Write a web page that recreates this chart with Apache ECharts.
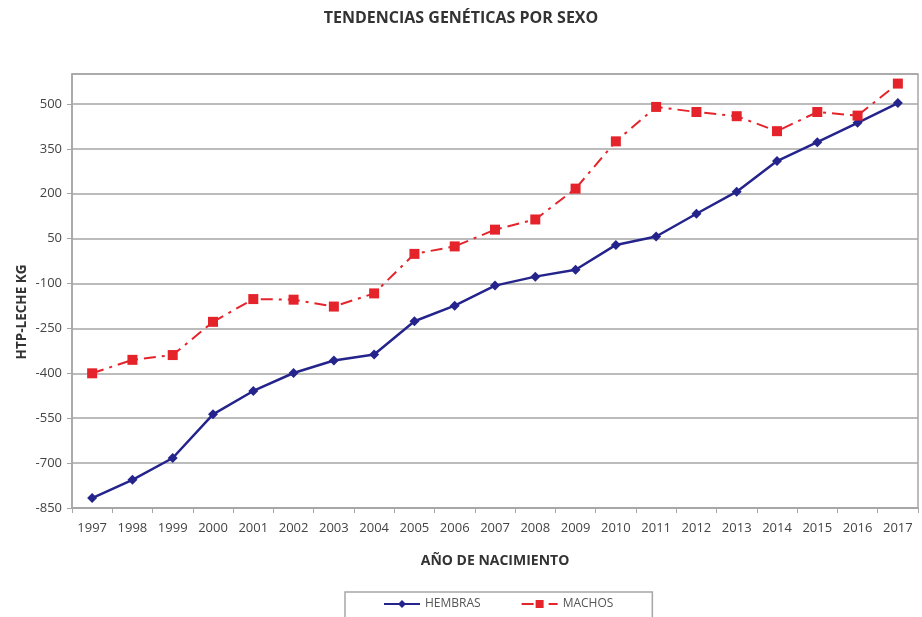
<!DOCTYPE html>
<html>
<head>
<meta charset="utf-8">
<script src="https://cdn.jsdelivr.net/npm/echarts@6/dist/echarts.min.js"></script>
<style>
html,body{margin:0;padding:0;background:#fff;}
#chart{width:922px;height:617px;}
</style>
</head>
<body>
<div id="chart"></div>
<script>
const years = ['1997','1998','1999','2000','2001','2002','2003','2004','2005','2006','2007','2008','2009','2010','2011','2012','2013','2014','2015','2016','2017'];
const hembras = [-817,-756,-683,-537,-459,-399,-357,-337,-226,-174,-107,-77,-54,29,57,133,207,309,372,437,503];
const machos = [-400,-355,-339,-228,-152,-154,-177,-133,-1,24,80,114,217,375,490,473,459,409,473,461,568];
const yMin = -850, yMax = 600, yStep = 150;

const chart = echarts.init(document.getElementById('chart'), null, {renderer:'canvas'});
const font = '"Open Sans", "Noto Sans", sans-serif';
chart.setOption({
  backgroundColor:'#fff',
  animation:false,
  title:{
    text:'TENDENCIAS GENÉTICAS POR SEXO',
    left:'center', top:5,
    textStyle:{fontFamily:font, fontSize:16, fontWeight:'bold', color:'#333'}
  },
  grid:{left:72, top:74, right:4, bottom:109, show:true, borderColor:'#a6a6a6', borderWidth:1.5},
  legend:{
    left:345, top:592,
    padding:[6,39,20,38],
    itemGap:40, itemWidth:36, itemHeight:10,
    borderColor:'#a6a6a6', borderWidth:1.5,
    textStyle:{fontFamily:font, fontSize:12, color:'#555'},
    data:['HEMBRAS','MACHOS']
  },
  xAxis:{
    type:'category', data:years, boundaryGap:true,
    name:'AÑO DE NACIMIENTO', nameLocation:'middle', nameGap:46,
    nameTextStyle:{fontFamily:font, fontSize:14, fontWeight:'bold', color:'#333'},
    axisLine:{onZero:false, lineStyle:{color:'#a6a6a6', width:1.5}},
    axisTick:{show:true, length:5, lineStyle:{color:'#a6a6a6'}, alignWithLabel:false},
    axisLabel:{fontFamily:font, fontSize:13, color:'#444', margin:14, interval:0}
  },
  yAxis:{
    type:'value', min:yMin, max:yMax, interval:yStep,
    axisLine:{show:true, lineStyle:{color:'#a6a6a6', width:1.5}},
    axisTick:{show:true, length:5, lineStyle:{color:'#a6a6a6'}},
    axisLabel:{fontFamily:font, fontSize:13, color:'#444', margin:10, showMaxLabel:false},
    splitLine:{lineStyle:{color:'#a6a6a6', width:1.5}}
  },
  graphic:[{
    type:'text', x:22, y:312, rotation:Math.PI/2,
    style:{text:'HTP-LECHE KG', x:0, y:0, align:'center', verticalAlign:'middle',
      font:'bold 13.5px "Open Sans", sans-serif', fill:'#333'}
  }],
  series:[
    {
      name:'HEMBRAS', type:'line', data:hembras,
      symbol:'diamond', symbolSize:10,
      lineStyle:{color:'#24248c', width:2.5},
      itemStyle:{color:'#24248c'}
    },
    {
      name:'MACHOS', type:'line', data:machos,
      symbol:'rect', symbolSize:10,
      lineStyle:{color:'#e4232b', width:2, type:[12,6,3,6]},
      itemStyle:{color:'#e4232b'}
    }
  ]
});
</script>
</body>
</html>
